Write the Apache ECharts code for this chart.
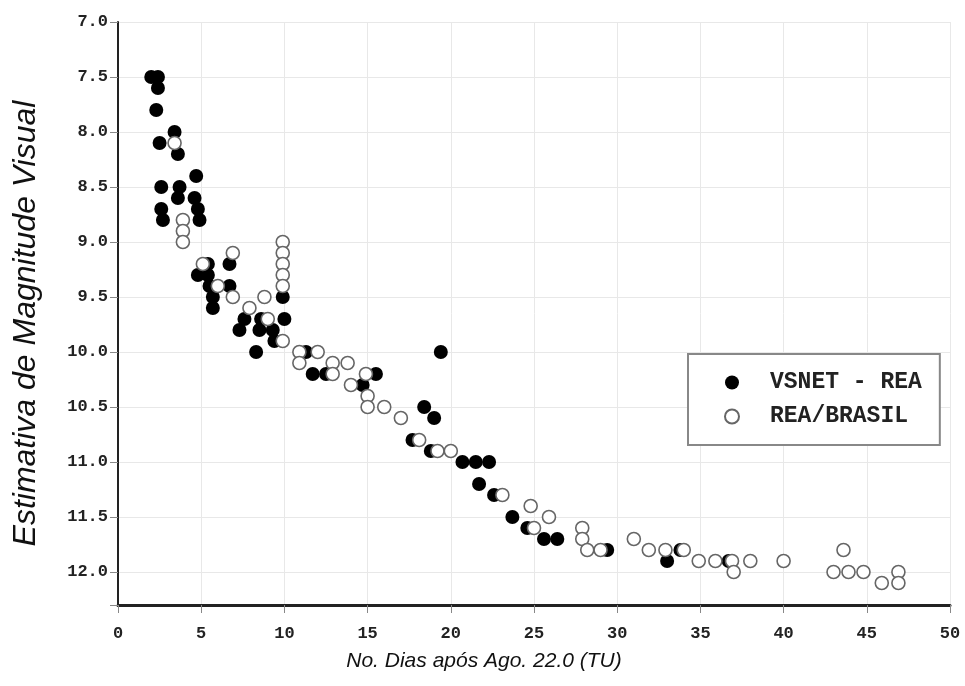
<!DOCTYPE html>
<html>
<head>
<meta charset="utf-8">
<script src="https://cdn.jsdelivr.net/npm/echarts@6/dist/echarts.min.js"></script>
<style>
  html, body { margin: 0; padding: 0; background: #fff; }
  #main { width: 965px; height: 686px; }
</style>
</head>
<body>
<div id="main"></div>
<script>
// [dias, magnitude]
const vsnetData = [
  [2.0, 7.5], [2.4, 7.5], [2.4, 7.6], [2.3, 7.8], [3.4, 8.0], [2.5, 8.1], [3.6, 8.2],
  [4.7, 8.4], [2.6, 8.5], [3.7, 8.5], [3.6, 8.6], [4.6, 8.6], [2.6, 8.7], [4.8, 8.7],
  [2.7, 8.8], [4.9, 8.8], [5.4, 9.2], [6.7, 9.2], [4.8, 9.3], [5.4, 9.3], [5.5, 9.4],
  [6.7, 9.4], [5.7, 9.5], [5.7, 9.6], [9.9, 9.5], [7.6, 9.7], [8.6, 9.7], [10.0, 9.7],
  [7.3, 9.8], [8.5, 9.8], [9.3, 9.8], [9.4, 9.9], [8.3, 10.0], [11.3, 10.0], [11.7, 10.2],
  [12.5, 10.2], [15.5, 10.2], [14.7, 10.3], [19.4, 10.0], [18.4, 10.5], [19.0, 10.6],
  [17.7, 10.8], [18.8, 10.9], [20.7, 11.0], [21.5, 11.0], [22.3, 11.0], [21.7, 11.2],
  [22.6, 11.3], [23.7, 11.5], [24.6, 11.6], [25.6, 11.7], [26.4, 11.7], [29.4, 11.8],
  [33.0, 11.9], [33.8, 11.8], [36.7, 11.9]
];
const reaBrasilData = [
  [3.4, 8.1], [3.9, 8.8], [3.9, 8.9], [3.9, 9.0], [6.9, 9.1], [5.1, 9.2], [6.0, 9.4],
  [6.9, 9.5], [9.9, 9.0], [9.9, 9.1], [9.9, 9.2], [9.9, 9.3], [9.9, 9.4], [8.8, 9.5],
  [7.9, 9.6], [9.0, 9.7], [9.9, 9.9], [10.9, 10.0], [12.0, 10.0], [10.9, 10.1],
  [12.9, 10.1], [12.9, 10.2], [13.8, 10.1], [14.9, 10.2], [14.0, 10.3], [15.0, 10.4],
  [15.0, 10.5], [16.0, 10.5], [17.0, 10.6], [18.1, 10.8], [19.2, 10.9], [20.0, 10.9],
  [23.1, 11.3], [24.8, 11.4], [25.9, 11.5], [25.0, 11.6], [27.9, 11.6], [27.9, 11.7],
  [28.2, 11.8], [29.0, 11.8], [31.0, 11.7], [31.9, 11.8], [32.9, 11.8], [34.0, 11.8],
  [34.9, 11.9], [35.9, 11.9], [36.9, 11.9], [37.0, 12.0], [38.0, 11.9], [40.0, 11.9],
  [43.0, 12.0], [43.6, 11.8], [43.9, 12.0], [44.8, 12.0], [45.9, 12.1], [46.9, 12.0],
  [46.9, 12.1]
];
const seriesNames = ['VSNET - REA', 'REA/BRASIL'];

const monoFont = '"Liberation Mono", "DejaVu Sans Mono", monospace';
const sansFont = '"Liberation Sans", Arial, sans-serif';

let myChart = echarts.init(document.getElementById('main'));
myChart.setOption({
  animation: false,
  backgroundColor: '#fff',
  grid: { left: 118, right: 15, top: 22, bottom: 81, outerBoundsMode: 'none' },
  legend: {
    orient: 'vertical',
    left: 688,
    top: 354,
    padding: [17, 18, 17, 36],
    itemWidth: 66,
    itemHeight: 14,
    itemGap: 11,
    backgroundColor: '#fff',
    borderColor: '#888',
    borderWidth: 2,
    borderRadius: 0,
    textStyle: { fontFamily: monoFont, fontWeight: 'bold', fontSize: 23, lineHeight: 22, color: '#222' },
    data: seriesNames
  },
  xAxis: {
    type: 'value',
    min: 0,
    max: 50,
    interval: 5,
    name: 'No. Dias após Ago. 22.0 (TU)',
    nameLocation: 'middle',
    nameGap: 46,
    nameTextStyle: { fontFamily: sansFont, fontStyle: 'italic', fontSize: 21, color: '#111', padding: [0, 100, 0, 0] },
    axisLine: { show: true, onZero: false, lineStyle: { color: '#222', width: 3 } },
    axisTick: { show: true, length: 8, lineStyle: { color: '#888' } },
    axisLabel: { margin: 20, fontFamily: monoFont, fontWeight: 'bold', fontSize: 17, color: '#222' },
    splitLine: { show: true, lineStyle: { color: '#e8e8e8', width: 1 } }
  },
  yAxis: {
    type: 'value',
    inverse: true,
    min: 7,
    max: 12.3,
    interval: 0.5,
    name: 'Estimativa de Magnitude Visual',
    nameLocation: 'middle',
    nameGap: 76,
    nameRotate: 90,
    nameTextStyle: { fontFamily: sansFont, fontStyle: 'italic', fontSize: 32, color: '#111', padding: [0, 20, 0, 0] },
    axisLine: { show: true, onZero: false, lineStyle: { color: '#222', width: 2 } },
    axisTick: { show: true, length: 8, lineStyle: { color: '#888' } },
    axisLabel: {
      margin: 10,
      fontFamily: monoFont, fontWeight: 'bold', fontSize: 17, color: '#222',
      formatter: function (v) {
        if (Math.abs(v * 2 - Math.round(v * 2)) > 1e-6) return '';
        return v.toFixed(1);
      }
    },
    splitLine: { show: true, lineStyle: { color: '#e8e8e8', width: 1 } }
  },
  series: [
    {
      name: seriesNames[0],
      type: 'scatter',
      symbol: 'circle',
      symbolSize: 14,
      itemStyle: { color: '#000', borderColor: '#000', borderWidth: 0, opacity: 1 },
      data: vsnetData
    },
    {
      name: seriesNames[1],
      type: 'scatter',
      symbol: 'circle',
      symbolSize: 13,
      itemStyle: { color: '#fff', borderColor: '#666', borderWidth: 1.6, opacity: 1 },
      data: reaBrasilData
    }
  ]
});
</script>
</body>
</html>
